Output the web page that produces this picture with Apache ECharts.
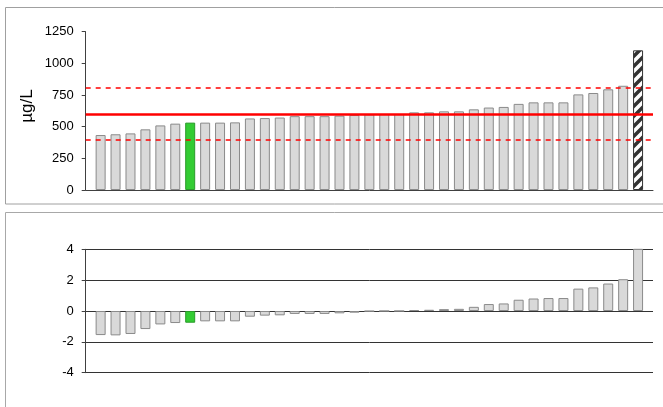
<!DOCTYPE html>
<html>
<head>
<meta charset="utf-8">
<script src="https://cdn.jsdelivr.net/npm/echarts@6/dist/echarts.min.js"></script>
<style>
html,body{margin:0;padding:0;background:#fff;}
#chart{width:663px;height:407px;}
</style>
</head>
<body>
<div id="chart"></div>
<script>
// ---- data ----
var categories = ['1','2','3','4','5','6','7','8','9','10','11','12','13','14','15','16','17','18','19','20',
  '21','22','23','24','25','26','27','28','29','30','31','32','33','34','35','36','37'];
var concValues = [434, 440, 447, 479, 510, 524, 532, 532, 532, 534, 565, 568, 572, 583, 583, 583, 587, 592, 598, 600,
  600, 613, 613, 621, 621, 637, 651, 656, 680, 692, 692, 692, 755, 766, 795, 823, 1103];
var zValues = [-1.56, -1.58, -1.49, -1.17, -0.87, -0.78, -0.76, -0.67, -0.67, -0.67, -0.37, -0.30, -0.28, -0.19, -0.19, -0.19, -0.15, -0.11, -0.02, 0,
  0, 0.06, 0.08, 0.12, 0.14, 0.27, 0.45, 0.49, 0.73, 0.81, 0.84, 0.84, 1.45, 1.53, 1.78, 2.06, 4.76];
var assignedValue = 600;
var upperLimit = 810;
var lowerLimit = 393;
var highlightIndex = 6;   // green bar
var hatchedIndex = 36;    // hatched bar
var topTicks = [0, 1250, 250];
var bottomTicks = [-4, 4, 2];
var unitLabel = 'µg/L';

// ---- build ----
var FONT = 'Liberation Sans, Arial, sans-serif';
var cats = [''].concat(categories).concat(['']);

function hatchPattern() {
  var c = document.createElement('canvas');
  c.width = 10; c.height = 10;
  var g = c.getContext('2d');
  g.fillStyle = '#ffffff'; g.fillRect(0, 0, 10, 10);
  g.strokeStyle = '#333333'; g.lineWidth = 3.5;
  g.beginPath();
  g.moveTo(-2, 12); g.lineTo(12, -2);
  g.moveTo(-7, 7); g.lineTo(7, -7);
  g.moveTo(3, 17); g.lineTo(17, 3);
  g.stroke();
  return c;
}
var pattern = { image: hatchPattern(), repeat: 'repeat' };

function itemFor(v, i, isTop) {
  var style = { color: '#d9d9d9', borderColor: '#8a8a8a', borderWidth: 1 };
  if (i === highlightIndex) style = { color: '#33cc33', borderColor: '#2a9a2a', borderWidth: 1 };
  if (isTop && i === hatchedIndex) style = { color: pattern, borderColor: '#333', borderWidth: 1 };
  return { value: v, itemStyle: style };
}
var topData = ['-'].concat(concValues.map(function (v, i) { return itemFor(v, i, true); })).concat(['-']);
var botData = ['-'].concat(zValues.map(function (v, i) { return itemFor(v, i, false); })).concat(['-']);

var axisLabelStyle = { fontFamily: FONT, fontSize: 13, color: '#000', margin: 12,
  formatter: function (v) { return String(v); } };

var chart = echarts.init(document.getElementById('chart'), null, { renderer: 'canvas' });
chart.setOption({
  animation: false,
  backgroundColor: '#fff',
  graphic: [
    { type: 'rect', z: 0, shape: { x: 5.5, y: 7.5, width: 700, height: 196.5 },
      style: { fill: 'none', stroke: '#a0a0a0', lineWidth: 1 } },
    { type: 'rect', z: 0, shape: { x: 5.5, y: 212.5, width: 700, height: 300 },
      style: { fill: 'none', stroke: '#a8a8a8', lineWidth: 1 } },
    { type: 'text', x: 27.5, y: 106, rotation: Math.PI / 2,
      style: { text: unitLabel, font: '17px ' + FONT, fill: '#000', textAlign: 'center', textVerticalAlign: 'middle' } }
  ],
  grid: [
    { left: 85.7, right: 10, top: 31.7, bottom: 217, containLabel: false },
    { left: 85.7, right: 10, top: 249.3, bottom: 34.3, containLabel: false }
  ],
  xAxis: [
    { type: 'category', gridIndex: 0, data: cats, boundaryGap: false,
      axisLine: { show: true, lineStyle: { color: '#404040', width: 1 } },
      axisTick: { show: false }, axisLabel: { show: false }, splitLine: { show: false } },
    { type: 'category', gridIndex: 1, data: cats, boundaryGap: false,
      axisLine: { show: false }, axisTick: { show: false }, axisLabel: { show: false }, splitLine: { show: false } }
  ],
  yAxis: [
    { type: 'value', gridIndex: 0, min: topTicks[0], max: topTicks[1], interval: topTicks[2],
      axisLine: { show: true, lineStyle: { color: '#404040' } },
      axisTick: { show: true, length: 4, lineStyle: { color: '#404040' } },
      axisLabel: axisLabelStyle, splitLine: { show: false } },
    { type: 'value', gridIndex: 1, min: bottomTicks[0], max: bottomTicks[1], interval: bottomTicks[2],
      axisLine: { show: true, lineStyle: { color: '#404040' } },
      axisTick: { show: true, length: 4, lineStyle: { color: '#404040' } },
      axisLabel: axisLabelStyle,
      splitLine: { show: true, lineStyle: { color: '#333', width: 1 } } }
  ],
  series: [
    { type: 'bar', xAxisIndex: 0, yAxisIndex: 0, data: topData, barWidth: 10, clip: true,
      markLine: {
        silent: true, symbol: 'none', label: { show: false },
        data: [
          { yAxis: assignedValue, lineStyle: { color: '#ff0000', width: 2.5, type: 'solid' } },
          { yAxis: upperLimit, lineStyle: { color: '#ff0000', width: 1.5, type: [5, 5] } },
          { yAxis: lowerLimit, lineStyle: { color: '#ff0000', width: 1.5, type: [5, 5] } }
        ]
      } },
    { type: 'bar', xAxisIndex: 1, yAxisIndex: 1, data: botData, barWidth: 10, clip: true }
  ]
});
</script>
</body>
</html>
